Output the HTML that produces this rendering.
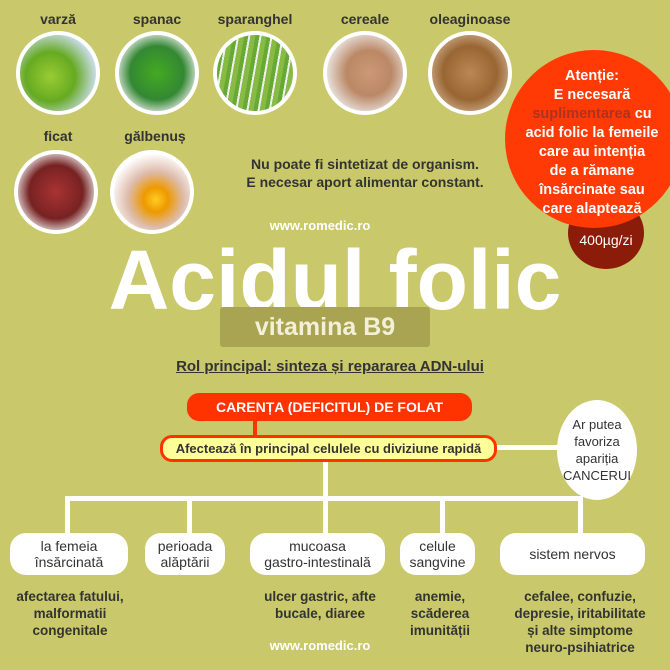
<!DOCTYPE html>
<html><head><meta charset="utf-8"><style>
body{margin:0}
#c{position:relative;width:670px;height:670px;background:#c9c86b;overflow:hidden;font-family:"Liberation Sans",sans-serif;color:#333}
.a{position:absolute}
.t{position:absolute;text-align:center;font-weight:bold;font-size:14px;color:#333;white-space:nowrap}
.ph{position:absolute;border-radius:50%;border:4px solid #fff;box-sizing:border-box}
.ln{position:absolute;background:#fff}
.bx{position:absolute;background:#fff;border-radius:16px;text-align:center;font-size:14px;line-height:16px;color:#333;display:flex;align-items:center;justify-content:center}
.bt{position:absolute;text-align:center;font-size:13.5px;font-weight:bold;line-height:17px;color:#333}
</style></head><body><div id="c">
<div class="t" style="left:18px;top:11px;width:80px">varză</div>
<div class="t" style="left:117px;top:11px;width:80px">spanac</div>
<div class="t" style="left:205px;top:11px;width:100px">sparanghel</div>
<div class="t" style="left:325px;top:11px;width:80px">cereale</div>
<div class="t" style="left:420px;top:11px;width:100px">oleaginoase</div>
<div class="ph" style="left:16px;top:31px;width:84px;height:84px;background:radial-gradient(circle at 40% 55%,#9c3 0,#6a2 40%,#cde 75%)"></div>
<div class="ph" style="left:115px;top:31px;width:84px;height:84px;background:radial-gradient(circle,#4a2 0,#383 50%,#eee 80%)"></div>
<div class="ph" style="left:213px;top:31px;width:84px;height:84px;background:repeating-linear-gradient(100deg,#8b4 0 5px,#6a3 5px 9px,#eee 9px 11px)"></div>
<div class="ph" style="left:323px;top:31px;width:84px;height:84px;background:radial-gradient(circle at 55% 50%,#c97 0,#b86 40%,#eee 80%)"></div>
<div class="ph" style="left:428px;top:31px;width:84px;height:84px;background:radial-gradient(circle,#b85 0,#963 50%,#ca8 80%)"></div>
<div class="t" style="left:18px;top:128px;width:80px">ficat</div>
<div class="t" style="left:110px;top:128px;width:90px">gălbenuș</div>
<div class="ph" style="left:14px;top:150px;width:84px;height:84px;background:radial-gradient(circle,#a33 0,#722 50%,#eee 80%)"></div>
<div class="ph" style="left:110px;top:150px;width:84px;height:84px;background:radial-gradient(circle at 55% 60%,#fc2 0,#e90 20%,#dba 45%,#fff 75%)"></div>
<div class="t" style="left:235px;top:155px;width:260px;line-height:18px">Nu poate fi sintetizat de organism.<br>E necesar aport alimentar constant.</div>
<div class="a" style="left:568px;top:197px;width:76px;height:72px;border-radius:50%;background:#8b1c0a"></div>
<div class="a" style="left:505px;top:50px;width:178px;height:178px;border-radius:50%;background:#ff3a05"></div>
<div class="t" style="left:512px;top:67px;width:160px;color:#fff;line-height:19px;font-size:14.5px">Atenție:<br>E necesară<br><span style="color:#a32">suplimentarea</span> cu<br>acid folic la femeile<br>care au intenția<br>de a rămane<br>însărcinate sau<br>care alaptează</div>
<div class="t" style="left:568px;top:232px;width:76px;color:#fff;font-weight:normal">400µg/zi</div>
<div class="t" style="left:240px;top:218px;width:160px;color:#fff;font-size:13px">www.romedic.ro</div>
<div class="a" style="left:85px;top:230px;width:500px;text-align:center;color:#fff;font-weight:bold;font-size:84px;line-height:100px">Acidul folic</div>
<div class="a" style="left:220px;top:307px;width:210px;height:40px;background:#a8a451;border-radius:3px;color:#f4f0d8;font-size:25px;font-weight:bold;line-height:40px;text-align:center">vitamina B9</div>
<div class="t" style="left:140px;top:358px;width:380px;font-size:15px;text-decoration:underline">Rol principal: sinteza și repararea ADN-ului</div>
<div class="ln" style="left:253px;top:418px;width:4px;height:20px;background:#ff3300"></div>
<div class="a" style="left:187px;top:393px;width:285px;height:28px;background:#ff3300;border-radius:12px;color:#fff;font-size:14px;font-weight:bold;line-height:28px;text-align:center">CARENȚA (DEFICITUL) DE FOLAT</div>
<div class="ln" style="left:495px;top:445px;width:70px;height:5px"></div>
<div class="ln" style="left:323px;top:460px;width:5px;height:40px"></div>
<div class="ln" style="left:65px;top:496px;width:518px;height:5px"></div>
<div class="ln" style="left:65px;top:496px;width:5px;height:40px"></div>
<div class="ln" style="left:187px;top:496px;width:5px;height:40px"></div>
<div class="ln" style="left:323px;top:496px;width:5px;height:40px"></div>
<div class="ln" style="left:440px;top:496px;width:5px;height:40px"></div>
<div class="ln" style="left:578px;top:496px;width:5px;height:40px"></div>
<div class="a" style="left:160px;top:435px;width:337px;height:27px;box-sizing:border-box;background:#ffff99;border:3px solid #ff3300;border-radius:12px;font-size:13px;font-weight:bold;line-height:21px;text-align:center">Afectează în principal celulele cu diviziune rapidă</div>
<div class="a" style="left:557px;top:400px;width:80px;height:100px;border-radius:50%;background:#fff;font-size:13px;line-height:17px;text-align:center;display:flex;align-items:center;justify-content:center">Ar putea<br>favoriza<br>apariția<br>CANCERUI</div>
<div class="bx" style="left:10px;top:533px;width:118px;height:42px">la femeia<br>însărcinată</div>
<div class="bx" style="left:145px;top:533px;width:80px;height:42px">perioada<br>alăptării</div>
<div class="bx" style="left:250px;top:533px;width:135px;height:42px">mucoasa<br>gastro-intestinală</div>
<div class="bx" style="left:400px;top:533px;width:75px;height:42px">celule<br>sangvine</div>
<div class="bx" style="left:500px;top:533px;width:145px;height:42px">sistem nervos</div>
<div class="bt" style="left:0px;top:588px;width:140px">afectarea fatului,<br>malformatii<br>congenitale</div>
<div class="bt" style="left:245px;top:588px;width:150px">ulcer gastric, afte<br>bucale, diaree</div>
<div class="bt" style="left:395px;top:588px;width:90px">anemie,<br>scăderea<br>imunității</div>
<div class="bt" style="left:495px;top:588px;width:170px">cefalee, confuzie,<br>depresie, iritabilitate<br>și alte simptome<br>neuro-psihiatrice</div>
<div class="t" style="left:240px;top:638px;width:160px;color:#fff;font-size:13px">www.romedic.ro</div>
</div></body></html>
